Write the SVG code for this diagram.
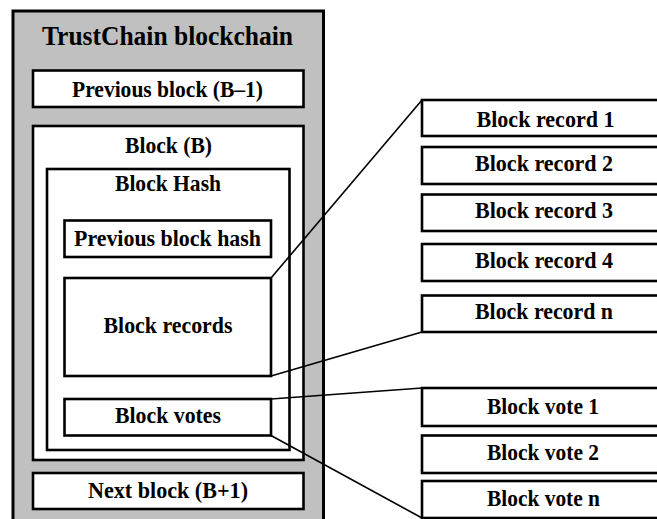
<svg xmlns="http://www.w3.org/2000/svg" width="657" height="519" viewBox="0 0 657 519">
<style>
.box{fill:#ffffff;stroke:#000;stroke-width:2.6}
.outer{fill:#c0c0c0;stroke:#000;stroke-width:3}
.t{font-family:"Liberation Serif","Times New Roman",serif;font-weight:bold;font-size:24px;fill:#000;text-anchor:middle}
.title{font-size:27px}
.con{stroke:#000;stroke-width:1.6;fill:none}
</style>
<rect width="657" height="519" fill="#ffffff"/>
<g id="chain">
<rect class="outer" x="13" y="11" width="310.5" height="515"/>
<text class="t title" x="167.5" y="45" textLength="251" lengthAdjust="spacingAndGlyphs">TrustChain blockchain</text>
</g>
<g id="prev-block">
<rect class="box" x="33" y="70.5" width="270.5" height="36.5"/>
<text class="t" x="167.5" y="97" textLength="191" lengthAdjust="spacingAndGlyphs">Previous block (B–1)</text>
</g>
<g id="block">
<rect class="box" x="33" y="126" width="270.5" height="334"/>
<text class="t" x="168.5" y="153" textLength="87" lengthAdjust="spacingAndGlyphs">Block (B)</text>
</g>
<g id="block-hash">
<rect class="box" x="47" y="169" width="242.5" height="281"/>
<text class="t" x="168" y="191" textLength="106" lengthAdjust="spacingAndGlyphs">Block Hash</text>
</g>
<g id="prev-hash">
<rect class="box" x="64.5" y="220.5" width="206.5" height="36.5"/>
<text class="t" x="167.5" y="246" textLength="187" lengthAdjust="spacingAndGlyphs">Previous block hash</text>
</g>
<g id="block-records">
<rect class="box" x="64.5" y="278" width="206.5" height="98"/>
<text class="t" x="168" y="333" textLength="129" lengthAdjust="spacingAndGlyphs">Block records</text>
</g>
<g id="block-votes">
<rect class="box" x="64.5" y="399" width="206.5" height="36.5"/>
<text class="t" x="168" y="423" textLength="106" lengthAdjust="spacingAndGlyphs">Block votes</text>
</g>
<g id="next-block">
<rect class="box" x="33" y="473" width="270.5" height="36"/>
<text class="t" x="168" y="498" textLength="160" lengthAdjust="spacingAndGlyphs">Next block (B+1)</text>
</g>
<g id="record-1">
<rect class="box" x="422" y="100" width="250" height="36"/>
<text class="t" x="545.5" y="126.5" textLength="138" lengthAdjust="spacingAndGlyphs">Block record 1</text>
</g>
<g id="record-2">
<rect class="box" x="422" y="147" width="250" height="37"/>
<text class="t" x="544" y="171" textLength="138" lengthAdjust="spacingAndGlyphs">Block record 2</text>
</g>
<g id="record-3">
<rect class="box" x="422" y="194.5" width="250" height="36.5"/>
<text class="t" x="544" y="217.5" textLength="138" lengthAdjust="spacingAndGlyphs">Block record 3</text>
</g>
<g id="record-4">
<rect class="box" x="422" y="244" width="250" height="37"/>
<text class="t" x="544" y="267.5" textLength="138" lengthAdjust="spacingAndGlyphs">Block record 4</text>
</g>
<g id="record-n">
<rect class="box" x="422" y="295.5" width="250" height="36.5"/>
<text class="t" x="544" y="319" textLength="138" lengthAdjust="spacingAndGlyphs">Block record n</text>
</g>
<g id="vote-1">
<rect class="box" x="422" y="388" width="250" height="38"/>
<text class="t" x="543" y="413.5" textLength="112" lengthAdjust="spacingAndGlyphs">Block vote 1</text>
</g>
<g id="vote-2">
<rect class="box" x="422" y="435.5" width="250" height="37.5"/>
<text class="t" x="543" y="459.5" textLength="112" lengthAdjust="spacingAndGlyphs">Block vote 2</text>
</g>
<g id="vote-n">
<rect class="box" x="422" y="481" width="250" height="37"/>
<text class="t" x="543.5" y="506" textLength="113" lengthAdjust="spacingAndGlyphs">Block vote n</text>
</g>
<g id="connectors">
<line class="con" x1="271" y1="278" x2="422" y2="100"/>
<line class="con" x1="271" y1="376" x2="422" y2="332"/>
<line class="con" x1="271" y1="399" x2="422" y2="388"/>
<line class="con" x1="271" y1="435.5" x2="422" y2="518"/>
</g>
</svg>
